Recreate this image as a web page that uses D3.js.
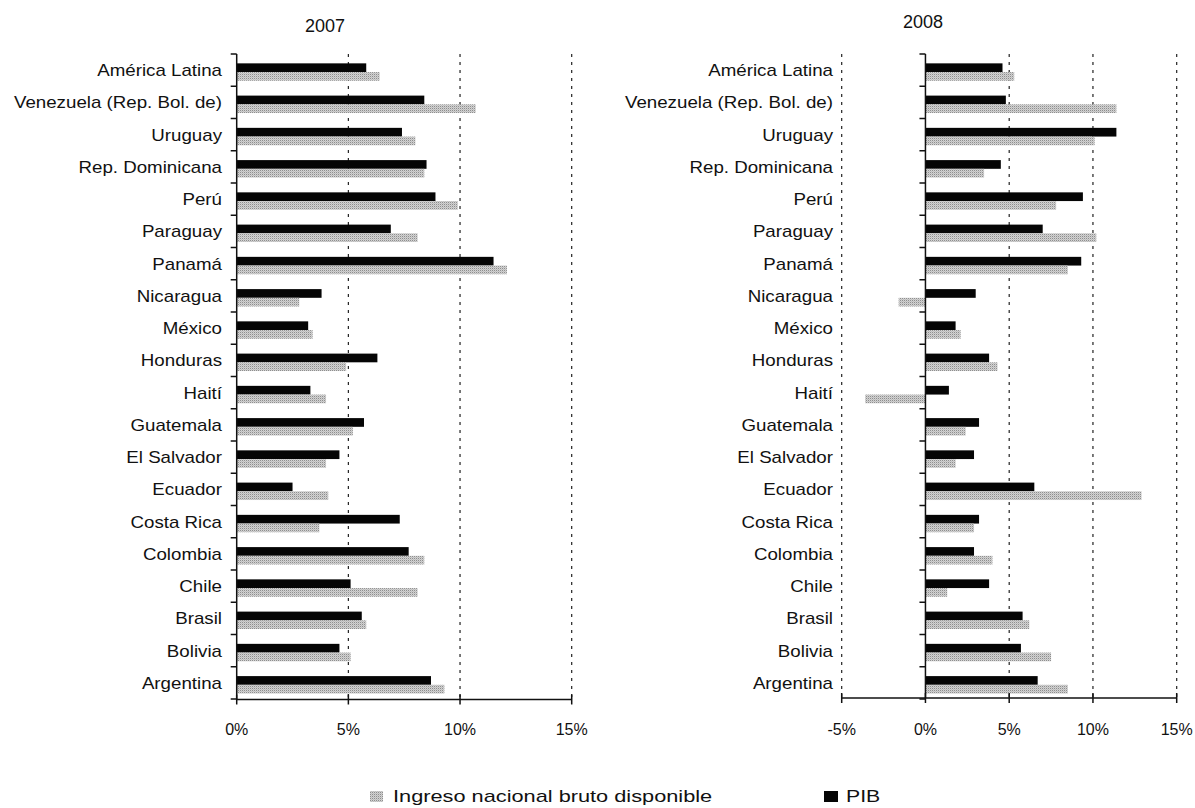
<!DOCTYPE html>
<html><head><meta charset="utf-8">
<script src="https://cdn.jsdelivr.net/npm/d3@7"></script>
<style>
html,body{margin:0;padding:0;background:#fff;}
svg text{font-family:"Liberation Sans",Arial,sans-serif;fill:#111;}
</style></head>
<body>
<svg id="chart" width="1195" height="808"></svg>
<script>
const categories = ["América Latina","Venezuela (Rep. Bol. de)","Uruguay","Rep. Dominicana","Perú","Paraguay","Panamá","Nicaragua","México","Honduras","Haití","Guatemala","El Salvador","Ecuador","Costa Rica","Colombia","Chile","Brasil","Bolivia","Argentina"];
const pib2007  = [5.8,8.4,7.4,8.5,8.9,6.9,11.5,3.8,3.2,6.3,3.3,5.7,4.6,2.5,7.3,7.7,5.1,5.6,4.6,8.7];
const inbd2007 = [6.4,10.7,8.0,8.4,9.9,8.1,12.1,2.8,3.4,4.9,4.0,5.2,4.0,4.1,3.7,8.4,8.1,5.8,5.1,9.3];
const pib2008  = [4.6,4.8,11.4,4.5,9.4,7.0,9.3,3.0,1.8,3.8,1.4,3.2,2.9,6.5,3.2,2.9,3.8,5.8,5.7,6.7];
const inbd2008 = [5.3,11.4,10.1,3.5,7.8,10.2,8.5,-1.6,2.1,4.3,-3.6,2.4,1.8,12.9,2.9,4.0,1.3,6.2,7.5,8.5];
const ticks2007 = [0,5,10,15];
const ticks2008 = [-5,0,5,10,15];
const titles = ["2007","2008"];
const seriesNames = ["Ingreso nacional bruto disponible","PIB"];

const svg = d3.select("#chart");
const defs = svg.append("defs");
const pat = defs.append("pattern").attr("id","dots").attr("patternUnits","userSpaceOnUse")
  .attr("width",2).attr("height",2);
pat.append("rect").attr("width",2).attr("height",2).attr("fill","#d2d2d2");
pat.append("rect").attr("width",1).attr("height",1).attr("fill","#8e8e8e");
pat.append("rect").attr("x",1).attr("y",1).attr("width",1).attr("height",0.5).attr("fill","#a8a8a8");

const y = d3.scaleBand().domain(categories).range([54, 699]).padding(0);
const step = y.step();

function panel(cfg){
  const x = d3.scaleLinear().domain(cfg.domain).range(cfg.range);
  const g = svg.append("g");
  // gridlines
  g.selectAll("line.grid").data(cfg.ticks.filter(t=>t!==0)).join("line")
    .attr("x1",d=>x(d)).attr("x2",d=>x(d)).attr("y1",54).attr("y2",cfg.axisY)
    .attr("stroke","#222").attr("stroke-width",1.2).attr("stroke-dasharray","3,5");
  // bars PIB
  g.selectAll("rect.pib").data(categories).join("rect")
    .attr("x",(d,i)=>x(Math.min(0,cfg.pib[i])))
    .attr("width",(d,i)=>Math.abs(x(cfg.pib[i])-x(0)))
    .attr("y",d=>y(d)+step*0.29).attr("height",step*0.27).attr("fill","#050505");
  // bars INBD
  g.selectAll("rect.inbd").data(categories).join("rect")
    .attr("x",(d,i)=>x(Math.min(0,cfg.inbd[i])))
    .attr("width",(d,i)=>Math.abs(x(cfg.inbd[i])-x(0)))
    .attr("y",d=>y(d)+step*0.56).attr("height",step*0.27).attr("fill","url(#dots)");
  // y axis
  g.append("line").attr("x1",x(0)).attr("x2",x(0)).attr("y1",54).attr("y2",cfg.axisY)
    .attr("stroke","#111").attr("stroke-width",1.5);
  const bounds = categories.map(c=>y(c)).concat([y.range()[1]]);
  g.selectAll("line.ytick").data(bounds).join("line")
    .attr("x1",x(0)-6).attr("x2",x(0)).attr("y1",d=>d).attr("y2",d=>d)
    .attr("stroke","#111").attr("stroke-width",1.5);
  // category labels
  g.selectAll("text.cat").data(categories).join("text")
    .attr("transform",d=>`translate(${cfg.labelX},${y(d)+step/2+6}) scale(1.17,1)`)
    .attr("text-anchor","end").attr("font-size",16).text(d=>d);
  // x axis
  g.append("line").attr("x1",x(cfg.domain[0])).attr("x2",x(cfg.domain[1]))
    .attr("y1",cfg.axisY).attr("y2",cfg.axisY).attr("stroke","#111").attr("stroke-width",1.5);
  g.selectAll("line.xtick").data(cfg.ticks).join("line")
    .attr("x1",d=>x(d)).attr("x2",d=>x(d)).attr("y1",cfg.axisY-5).attr("y2",cfg.axisY+5)
    .attr("stroke","#111").attr("stroke-width",1.5);
  g.selectAll("text.xlab").data(cfg.ticks).join("text")
    .attr("x",d=>x(d)).attr("y",735).attr("text-anchor","middle").attr("font-size",16)
    .text(d=>d+"%");
  // title
  g.append("text").attr("x",cfg.titleX).attr("y",cfg.titleY).attr("text-anchor","middle")
    .attr("font-size",18).text(cfg.title);
}

panel({domain:[0,15], range:[236.7,571.7], ticks:ticks2007, pib:pib2007, inbd:inbd2007,
  axisY:699.5, labelX:222, title:titles[0], titleX:325, titleY:32});
panel({domain:[-5,15], range:[841.7,1176.7], ticks:ticks2008, pib:pib2008, inbd:inbd2008,
  axisY:698, labelX:833, title:titles[1], titleX:923, titleY:28});

// legend
const leg = svg.append("g");
leg.append("rect").attr("x",370).attr("y",791).attr("width",13).attr("height",11).attr("fill","url(#dots)");
leg.append("text").attr("transform","translate(393,802) scale(1.28,1)").attr("font-size",17).text(seriesNames[0]);
leg.append("rect").attr("x",824).attr("y",791).attr("width",14).attr("height",11).attr("fill","#050505");
leg.append("text").attr("transform","translate(846,802) scale(1.25,1)").attr("font-size",17).text(seriesNames[1]);
</script>
</body></html>
